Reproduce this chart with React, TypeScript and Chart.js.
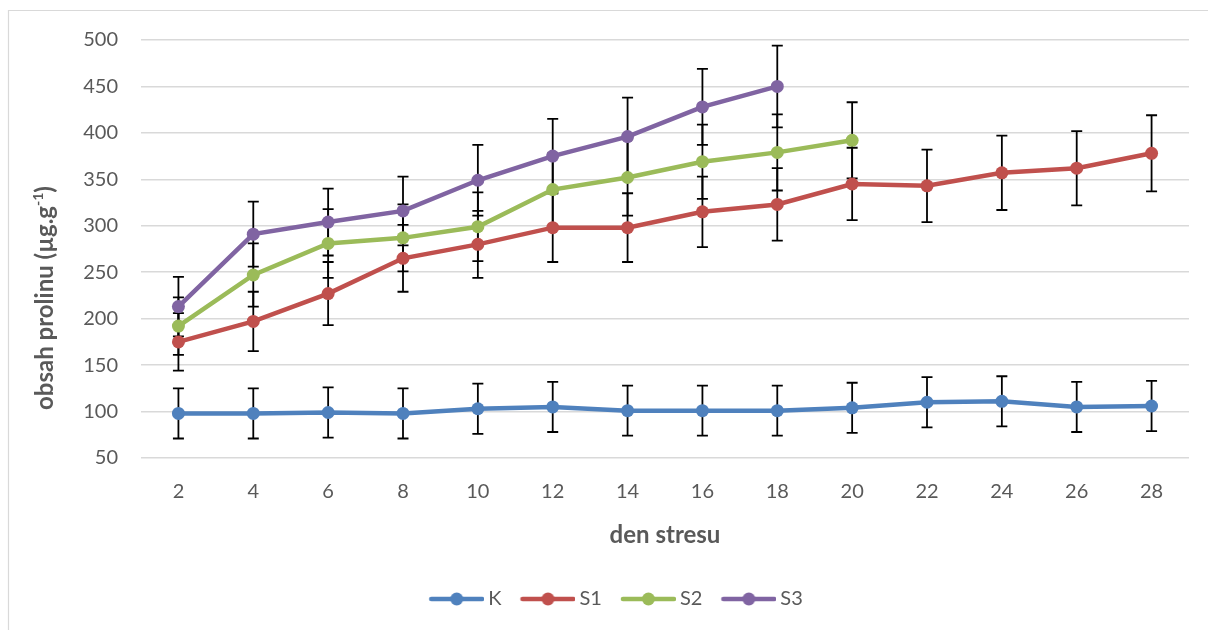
import { useEffect, useRef } from 'react';
import { Chart, registerables } from 'chart.js';

Chart.register(...registerables);

// ---- data ----
const days = ['2', '4', '6', '8', '10', '12', '14', '16', '18', '20', '22', '24', '26', '28'];
const seriesNames = ['K', 'S1', 'S2', 'S3'];

const kValues = [98, 98, 99, 98, 103, 105, 101, 101, 101, 104, 110, 111, 105, 106];
const kErrors = [27, 27, 27, 27, 27, 27, 27, 27, 27, 27, 27, 27, 27, 27];

const s1Values = [175, 197, 227, 265, 280, 298, 298, 315, 323, 345, 343, 357, 362, 378];
const s1Errors = [31, 32, 34, 36, 36, 37, 37, 38, 39, 39, 39, 40, 40, 41];

const s2Values = [192, 247, 281, 287, 299, 339, 352, 369, 379, 392];
const s2Errors = [31, 34, 37, 36, 37, 39, 41, 40, 41, 41];

const s3Values = [213, 291, 304, 316, 349, 375, 396, 428, 450];
const s3Errors = [32, 35, 36, 37, 38, 40, 42, 41, 44];

const yMin = 50;
const yMax = 500;
const yStep = 50;

const xTitle = 'den stresu';
const yTitleMain = 'obsah prolinu (µg.g';
const yTitleSup = '-1';
const yTitleEnd = ')';

// ---- style ----
const COLORS = ['#4f81bd', '#c0504d', '#9bbb59', '#8064a2'];
const TEXT = '#595959';
const FAMILY = 'Lato, "Open Sans", sans-serif';

function makeIcon(color: string): HTMLCanvasElement {
  const c = document.createElement('canvas');
  c.width = 70;
  c.height = 16;
  const g = c.getContext('2d')!;
  g.strokeStyle = color;
  g.lineWidth = 4.5;
  g.lineCap = 'round';
  g.beginPath();
  g.moveTo(17, 8);
  g.lineTo(68, 8);
  g.stroke();
  g.fillStyle = color;
  g.beginPath();
  g.arc(42.5, 8, 6.5, 0, Math.PI * 2);
  g.fill();
  return c;
}

const borderPlugin = {
  id: 'outerBorder',
  beforeDraw(chart: any) {
    const ctx = chart.ctx;
    ctx.save();
    ctx.strokeStyle = '#d9d9d9';
    ctx.lineWidth = 1.2;
    ctx.beginPath();
    ctx.moveTo(8.5, chart.height);
    ctx.lineTo(8.5, 10.5);
    ctx.lineTo(chart.width, 10.5);
    ctx.stroke();
    ctx.restore();
  },
};

const errorBarPlugin = {
  id: 'errorBars',
  beforeDatasetsDraw(chart: any) {
    const ctx = chart.ctx;
    const y = chart.scales.y;
    ctx.save();
    ctx.strokeStyle = '#000000';
    ctx.lineWidth = 1.8;
    chart.data.datasets.forEach((ds: any, i: number) => {
      const meta = chart.getDatasetMeta(i);
      meta.data.forEach((pt: any, j: number) => {
        const v = ds.data[j];
        const e = ds.errors[j];
        if (v == null || e == null) return;
        const x = pt.x;
        const top = y.getPixelForValue(v + e);
        const bot = y.getPixelForValue(v - e);
        ctx.beginPath();
        ctx.moveTo(x, top);
        ctx.lineTo(x, bot);
        ctx.moveTo(x - 5.5, top);
        ctx.lineTo(x + 5.5, top);
        ctx.moveTo(x - 5.5, bot);
        ctx.lineTo(x + 5.5, bot);
        ctx.stroke();
      });
    });
    ctx.restore();
  },
};

const yTitlePlugin = {
  id: 'yTitle',
  afterDraw(chart: any) {
    const ctx = chart.ctx;
    ctx.save();
    ctx.translate(45, 298);
    ctx.rotate(-Math.PI / 2);
    ctx.fillStyle = TEXT;
    ctx.textBaseline = 'middle';
    ctx.textAlign = 'left';
    const mainFont = `bold 24px ${FAMILY}`;
    const supFont = `bold 14px ${FAMILY}`;
    ctx.font = mainFont;
    const w1 = ctx.measureText(yTitleMain).width;
    const w3 = ctx.measureText(yTitleEnd).width;
    ctx.font = supFont;
    const w2 = ctx.measureText(yTitleSup).width;
    const total = w1 + w2 + w3;
    let x = -total / 2;
    ctx.font = mainFont;
    ctx.fillText(yTitleMain, x, 0);
    x += w1;
    ctx.font = supFont;
    ctx.fillText(yTitleSup, x, -7);
    x += w2;
    ctx.font = mainFont;
    ctx.fillText(yTitleEnd, x, 0);
    ctx.restore();
  },
};

export default function App() {
  const ref = useRef<HTMLCanvasElement>(null);

  useEffect(() => {
    const canvas = ref.current;
    if (!canvas) return;
    const icons = COLORS.map((c) => makeIcon(c));
    const valueSets = [kValues, s1Values, s2Values, s3Values];
    const errorSets = [kErrors, s1Errors, s2Errors, s3Errors];

    const chart = new Chart(canvas, {
      type: 'line',
      data: {
        labels: days,
        datasets: seriesNames.map((name, i) => ({
          label: name,
          data: valueSets[i],
          errors: errorSets[i],
          borderColor: COLORS[i],
          backgroundColor: COLORS[i],
          borderWidth: 4.5,
          pointRadius: 6.5,
          pointHoverRadius: 6.5,
          pointBackgroundColor: COLORS[i],
          pointBorderColor: COLORS[i],
          pointBorderWidth: 0,
          tension: 0,
          fill: false,
        })) as any,
      },
      options: {
        animation: false,
        responsive: false,
        maintainAspectRatio: false,
        events: [],
        layout: { padding: { left: 34, right: 19, top: 40, bottom: 11 } },
        plugins: {
          tooltip: { enabled: false },
          legend: {
            display: true,
            position: 'bottom',
            labels: {
              usePointStyle: true,
              pointStyleWidth: 58,
              boxHeight: 16,
              padding: 10,
              color: TEXT,
              font: { family: FAMILY, size: 20 },
              generateLabels: (ch: any) =>
                ch.data.datasets.map((ds: any, i: number) => ({
                  text: ds.label,
                  pointStyle: icons[i],
                  fillStyle: COLORS[i],
                  strokeStyle: COLORS[i],
                  lineWidth: 0,
                  hidden: false,
                  datasetIndex: i,
                  fontColor: TEXT,
                })),
            },
          },
        },
        scales: {
          x: {
            type: 'category',
            offset: true,
            grid: { display: false, drawTicks: false },
            border: { display: false },
            ticks: { color: TEXT, font: { family: FAMILY, size: 20 }, padding: 22, maxRotation: 0 },
            title: {
              display: true,
              text: xTitle,
              color: TEXT,
              font: { family: FAMILY, size: 24, weight: 'bold' },
              padding: { top: 10, bottom: 29 },
            },
            afterFit: (s: any) => {
              s.height = 121;
            },
          },
          y: {
            min: yMin,
            max: yMax,
            ticks: { stepSize: yStep, padding: 23, color: TEXT, font: { family: FAMILY, size: 20 } },
            grid: { color: '#d9d9d9', lineWidth: 1.5, drawTicks: false },
            border: { display: false },
            afterFit: (s: any) => {
              s.width = 107;
            },
          },
        },
      } as any,
      plugins: [borderPlugin, errorBarPlugin, yTitlePlugin],
    });
    return () => chart.destroy();
  }, []);

  return (
    <div style={{ position: 'absolute', left: 0, top: 0, width: 1208, height: 630, background: '#ffffff' }}>
      <canvas ref={ref} width={1208} height={630} style={{ display: 'block', width: 1208, height: 630 }} />
    </div>
  );
}
